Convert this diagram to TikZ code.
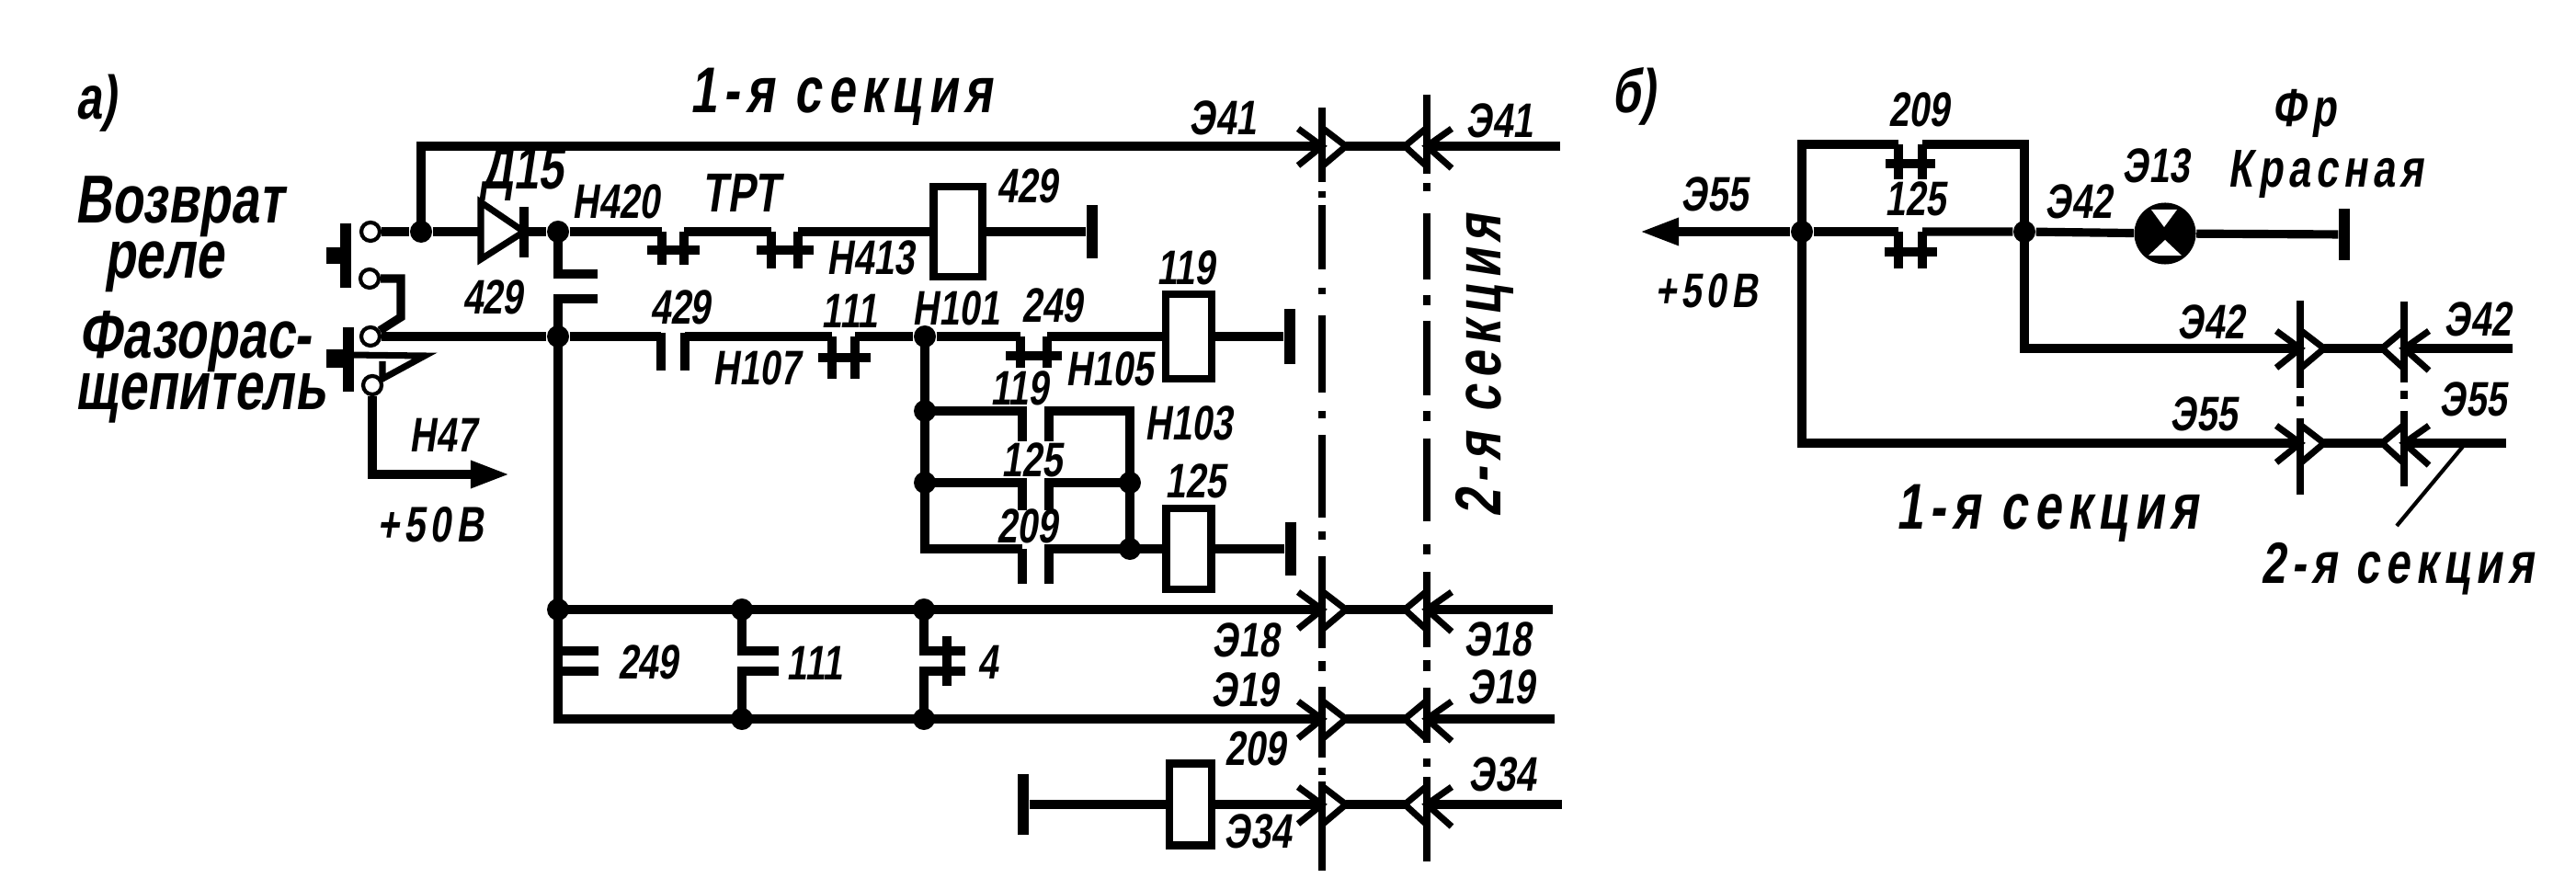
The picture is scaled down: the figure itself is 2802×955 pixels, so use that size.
\documentclass[tikz,border=0pt]{standalone}
\usepackage{fontspec}
\newfontfamily\schfont[FakeSlant=0.15,FakeStretch=0.75]{Liberation Sans}
\newfontfamily\secfont[FakeSlant=0.15,FakeStretch=0.75,LetterSpace=10]{Liberation Sans}
\usetikzlibrary{arrows.meta}
\tikzset{
	wire/.style={line width=2.6pt},
	barb/.style={line width=2pt},
	busline/.style={line width=2.2pt},
	jdot/.style={circle,fill=black,inner sep=0pt,minimum size=.24cm},
	ring/.style={circle,draw,fill=white,line width=1.2pt,inner sep=0pt,minimum size=.2cm},
	relay/.style={rectangle,draw,line width=2.3pt,fill=white,inner sep=0pt},
	gnd/.style={rectangle,fill=black,inner sep=0pt,minimum width=.12cm},
	lbl/.style={font=\schfont\bfseries\fontsize{15}{15}\selectfont,inner sep=0pt},
	volt/.style={font=\secfont\bfseries\fontsize{15}{15}\selectfont,inner sep=0pt},
	biglbl/.style={font=\schfont\bfseries\fontsize{21}{21}\selectfont,inner sep=0pt},
	partlbl/.style={font=\schfont\bfseries\fontsize{19}{19}\selectfont,inner sep=0pt},
	lamplbl/.style={font=\secfont\bfseries\fontsize{16.5}{16.5}\selectfont,inner sep=0pt},
	seclbl/.style={font=\secfont\bfseries\fontsize{20}{20}\selectfont,inner sep=0pt}
}
\begin{document}
\begin{tikzpicture}[x=0.01cm,y=-0.01cm]
	\useasboundingbox (0,0) rectangle (2802,955);
	
	% a) buttons
	\node[gnd,minimum height=.7cm] (btn1) at (376,278) {};
	\node[gnd,minimum height=.7cm] (btn2) at (379,391) {};
	\fill (355,269) rectangle (376,287);
	\fill (355,380) rectangle (379,400);
	\draw[barb] (379,386) -- (462,387) -- (416,412) -- (416,393);
	\node[ring] (ring1) at (403,252) {};
	\node[ring] (ring2) at (402,303) {};
	\node[ring] (ring3) at (403,366) {};
	\node[ring] (ring4) at (405,419) {};
	
	% a) junctions
	\node[jdot] (j1) at (458,252) {};
	\node[jdot] (j2) at (607,252) {};
	\node[jdot] (j3) at (607,366) {};
	\node[jdot] (j4) at (607,663) {};
	\node[jdot] (j5) at (1006,366) {};
	\node[jdot] (j6) at (1006,447) {};
	\node[jdot] (j7) at (1006,525) {};
	\node[jdot] (j8) at (1229,525) {};
	\node[jdot] (j9) at (1229,597) {};
	\node[jdot] (j10) at (807,663) {};
	\node[jdot] (j11) at (1005,663) {};
	\node[jdot] (j12) at (807,782) {};
	\node[jdot] (j13) at (1005,782) {};
	
	% relays and ends
	\node[relay,minimum width=.53cm,minimum height=.98cm] (rl429) at (1042,252) {};
	\node[relay,minimum width=.5cm,minimum height=.92cm] (rl119) at (1293,366) {};
	\node[relay,minimum width=.49cm,minimum height=.88cm] (rl125) at (1293,597) {};
	\node[relay,minimum width=.46cm,minimum height=.89cm] (rl209) at (1295,875) {};
	\node[gnd,minimum height=.57cm] (g1) at (1188,252) {};
	\node[gnd,minimum height=.59cm] (g2) at (1403,366) {};
	\node[gnd,minimum height=.58cm] (g3) at (1404,597) {};
	\node[gnd,minimum height=.66cm] (g4) at (1113,875) {};
	
	% contacts with a bar
	\foreach \n/\xa/\xb/\yy/\yb/\yc/\xl/\xr in {
		ka/720/744/252/288/272/704/761,
		kb/839/868/252/292/272/823/885,
		kc/905/930/366/412/389/890/947,
		kd/1110/1139/366/400/387/1094/1155,
		ke/2065/2091/157/195/178/2051/2105,
		kf/2065/2091/252/292/274/2050/2107}{
		\coordinate (\n l) at (\xa,\yy);
		\coordinate (\n r) at (\xb,\yy);
		\draw[wire] (\n l) -- (\xa,\yb);
		\draw[wire] (\n r) -- (\xb,\yb);
		\draw[wire] (\xl,\yc) -- (\xr,\yc);
	}
	
	% section connectors
	\foreach \n/\xa/\xb/\yy/\xe in {
		a/1438/1552/159/1697,
		b/1438/1552/663/1689,
		c/1438/1552/782/1691,
		d/1438/1552/875/1699,
		e/2502/2615/379/2733,
		f/2502/2615/482/2726}{
		\coordinate (l\n) at (\xa,\yy);
		\coordinate (r\n) at (\xb,\yy);
		\coordinate (e\n) at (\xe,\yy);
		\draw[barb] (\xa-26,\yy-19) -- (\xa,\yy) -- (\xa-26,\yy+21);
		\draw[barb] (\xa,\yy-20) -- (\xa+26,\yy) -- (\xa,\yy+22);
		\draw[wire] (\xa+26,\yy) -- (\xb-24,\yy);
		\draw[barb] (\xb,\yy-20) -- (\xb-24,\yy) -- (\xb,\yy+22);
		\draw[barb] (\xb+27,\yy-19) -- (\xb,\yy) -- (\xb+27,\yy+24);
		\draw[wire] (r\n) -- (e\n);
	}
	\foreach \x/\ya/\yb in {
		1438/117/198,1438/208/215,1438/223/293,1438/313/320,1438/343/427,1438/447/455,
		1438/473/563,1438/578/587,1438/605/705,1438/719/730,1438/747/824,1438/835/843,1438/850/947,
		1552/103/189,1552/199/208,1552/232/304,1552/321/332,1552/349/430,1552/447/458,
		1552/477/567,1552/592/603,1552/622/704,1552/718/730,1552/748/808,1552/825/834,1552/845/937,
		2502/327/422,2502/431/442,2502/455/538,
		2615/328/416,2615/425/434,2615/447/529}{
		\draw[busline] (\x,\ya) -- (\x,\yb);
	}
	
	% a) wires
	\coordinate (da) at (523,252);
	\coordinate (dk) at (570,252);
	\draw[barb] (da) -- (523,220) -- (dk) -- (523,282) -- cycle;
	\draw[wire] (570,225) -- (570,280);
	\draw[wire] (ring1) -- (j1) -- (da);
	\draw[wire] (dk) -- (j2) -- (kal);
	\draw[wire] (j1.center) |- (la);
	\draw[wire] (kar) -- (kbl);
	\draw[wire] (kbr) -- (rl429.west);
	\draw[wire] (rl429.east) -- (g1);
	\draw[wire] (ring2) -- (436,303) -- (436,345) -- (ring3);
	\draw[wire,-{Stealth[length=12pt,width=8pt,inset=0pt]}] (ring4) |- (554,516);
	\draw[wire] (j2.center) |- (650,298);
	\draw[wire] (j3.center) |- (650,325);
	\draw[wire] (ring3) -- (j3) -- (719,366);
	\draw[wire] (719,362) -- (719,403);
	\draw[wire] (745,362) -- (745,403);
	\draw[wire] (745,366) -- (kcl);
	\draw[wire] (kcr) -- (j5) -- (kdl);
	\draw[wire] (kdr) -- (rl119.west);
	\draw[wire] (rl119.east) -- (g2);
	\draw[wire] (j5.center) -- (j6.center) -- (j7.center) |- (1112,597);
	\draw[wire] (1112,597) -- (1112,635);
	\draw[wire] (j6.center) -| (1112,480);
	\draw[wire] (j7.center) -| (1112,555);
	\draw[wire] (1141,480) |- (1229,447) -- (j8.center) -- (j9.center) -- (rl125.west);
	\draw[wire] (1141,555) |- (j8.center);
	\draw[wire] (1141,635) |- (j9.center);
	\draw[wire] (rl125.east) -- (g3);
	\draw[wire] (j3.center) -- (j4.center) -- (607,782) -- (j12.center) -- (j13.center) -- (lc);
	\draw[wire] (j4.center) -- (j10.center) -- (j11.center) -- (lb);
	\draw[wire] (607,708) -- (651,708);
	\draw[wire] (607,730) -- (651,730);
	\draw[wire] (j10.center) |- (847,708);
	\draw[wire] (j12.center) |- (847,730);
	\draw[wire] (j11.center) |- (1050,708);
	\draw[wire] (j13.center) |- (1050,730);
	\draw[wire] (1030,692) -- (1030,746);
	\draw[wire] (g4) -- (rl209.west);
	\draw[wire] (rl209.east) -- (ld);
	
	% b) part
	\node[jdot] (jr1) at (1960,252) {};
	\node[jdot] (jr2) at (2202,252) {};
	\node[circle,fill=black,inner sep=0pt,minimum size=.67cm] (lamp) at (2355,254) {};
	\fill[white] (2340,228) -- (2368,228) -- (2354,247) -- cycle;
	\fill[white] (2337,278) -- (2373,278) -- (2355,261) -- cycle;
	\node[gnd,minimum height=.56cm] (g5) at (2550,255) {};
	\draw[wire,-{Stealth[length=12pt,width=8pt,inset=0pt]}] (jr1) -- (1784,252);
	\draw[wire] (jr1) -- (kfl);
	\draw[wire] (kfr) -- (jr2) -- (lamp);
	\draw[wire] (lamp) -- (g5);
	\draw[wire] (jr1.center) |- (kel);
	\draw[wire] (ker) -| (jr2.center);
	\draw[wire] (jr2.center) |- (le);
	\draw[wire] (jr1.center) |- (lf);
	\coordinate (ptra) at (2682,482);
	\coordinate (ptrb) at (2607,572);
	\draw[line width=1.2pt] (ptra) -- (ptrb);
	
	% labels
	\node[partlbl] (ta) at (105,112) {а)};
	\node[biglbl] (tvoz) at (195,225) {Возврат};
	\node[biglbl] (trel) at (178,290) {реле};
	\node[biglbl] (tfaz) at (212,372) {Фазорас-};
	\node[biglbl] (tshe) at (218,433) {щепитель};
	\node[seclbl] (tsec1) at (915,105) {1-я секция};
	\node[seclbl,rotate=90] (tsec2) at (1615,398) {2-я секция};
	\node[lbl,font=\schfont\bfseries\fontsize{18.5}{18.5}\selectfont] (td15) at (568,190) {Д15};
	\node[lbl] (tn420) at (670,219) {Н420};
	\node[lbl,font=\schfont\bfseries\fontsize{17}{17}\selectfont] (ttrt) at (806,210) {ТРТ};
	\node[lbl] (t429a) at (536,323) {429};
	\node[lbl] (t429b) at (740,334) {429};
	\node[lbl] (t429c) at (1117,202) {429};
	\node[lbl] (tn47) at (482,473) {Н47};
	\node[volt,font=\secfont\bfseries\fontsize{15.5}{15.5}\selectfont] (t50a) at (468,571) {+50В};
	\node[lbl] (t249a) at (705,720) {249};
	\node[lbl] (t111a) at (886,721) {111};
	\node[lbl] (t4) at (1074,720) {4};
	\node[lbl] (tn107) at (823,400) {Н107};
	\node[lbl] (tn413) at (947,280) {Н413};
	\node[lbl] (t111b) at (924,338) {111};
	\node[lbl] (tn101) at (1040,335) {Н101};
	\node[lbl] (t249b) at (1144,332) {249};
	\node[lbl] (tn105) at (1207,401) {Н105};
	\node[lbl] (t119a) at (1290,291) {119};
	\node[lbl] (t119b) at (1109,422) {119};
	\node[lbl] (tn103) at (1293,460) {Н103};
	\node[lbl] (t125a) at (1122,500) {125};
	\node[lbl] (t125b) at (1300,523) {125};
	\node[lbl] (t209a) at (1117,572) {209};
	\node[lbl] (t209b) at (1365,814) {209};
	\node[lbl] (te41a) at (1330,128) {Э41};
	\node[lbl] (te41b) at (1631,131) {Э41};
	\node[lbl] (te18a) at (1355,696) {Э18};
	\node[lbl] (te18b) at (1629,695) {Э18};
	\node[lbl] (te19a) at (1354,750) {Э19};
	\node[lbl] (te19b) at (1633,747) {Э19};
	\node[lbl] (te34a) at (1368,904) {Э34};
	\node[lbl] (te34b) at (1634,842) {Э34};
	\node[partlbl] (tb) at (1777,105) {б)};
	\node[lbl] (t209c) at (2087,119) {209};
	\node[lbl] (t125c) at (2083,216) {125};
	\node[lbl] (te55a) at (1865,211) {Э55};
	\node[volt] (t50b) at (1856,316) {+50В};
	\node[lbl] (te42a) at (2261,219) {Э42};
	\node[lbl] (te13) at (2345,180) {Э13};
	\node[lamplbl] (tfr) at (2506,123) {Фр};
	\node[lamplbl] (tkr) at (2530,190) {Красная};
	\node[lbl] (te42b) at (2405,350) {Э42};
	\node[lbl] (te42c) at (2695,347) {Э42};
	\node[lbl] (te55b) at (2397,450) {Э55};
	\node[lbl] (te55c) at (2690,434) {Э55};
	\node[seclbl] (tsec3) at (2227,558) {1-я секция};
	\node[seclbl,font=\secfont\bfseries\fontsize{18}{18}\selectfont] (tsec4) at (2608,619) {2-я секция};
\end{tikzpicture}
\end{document}
